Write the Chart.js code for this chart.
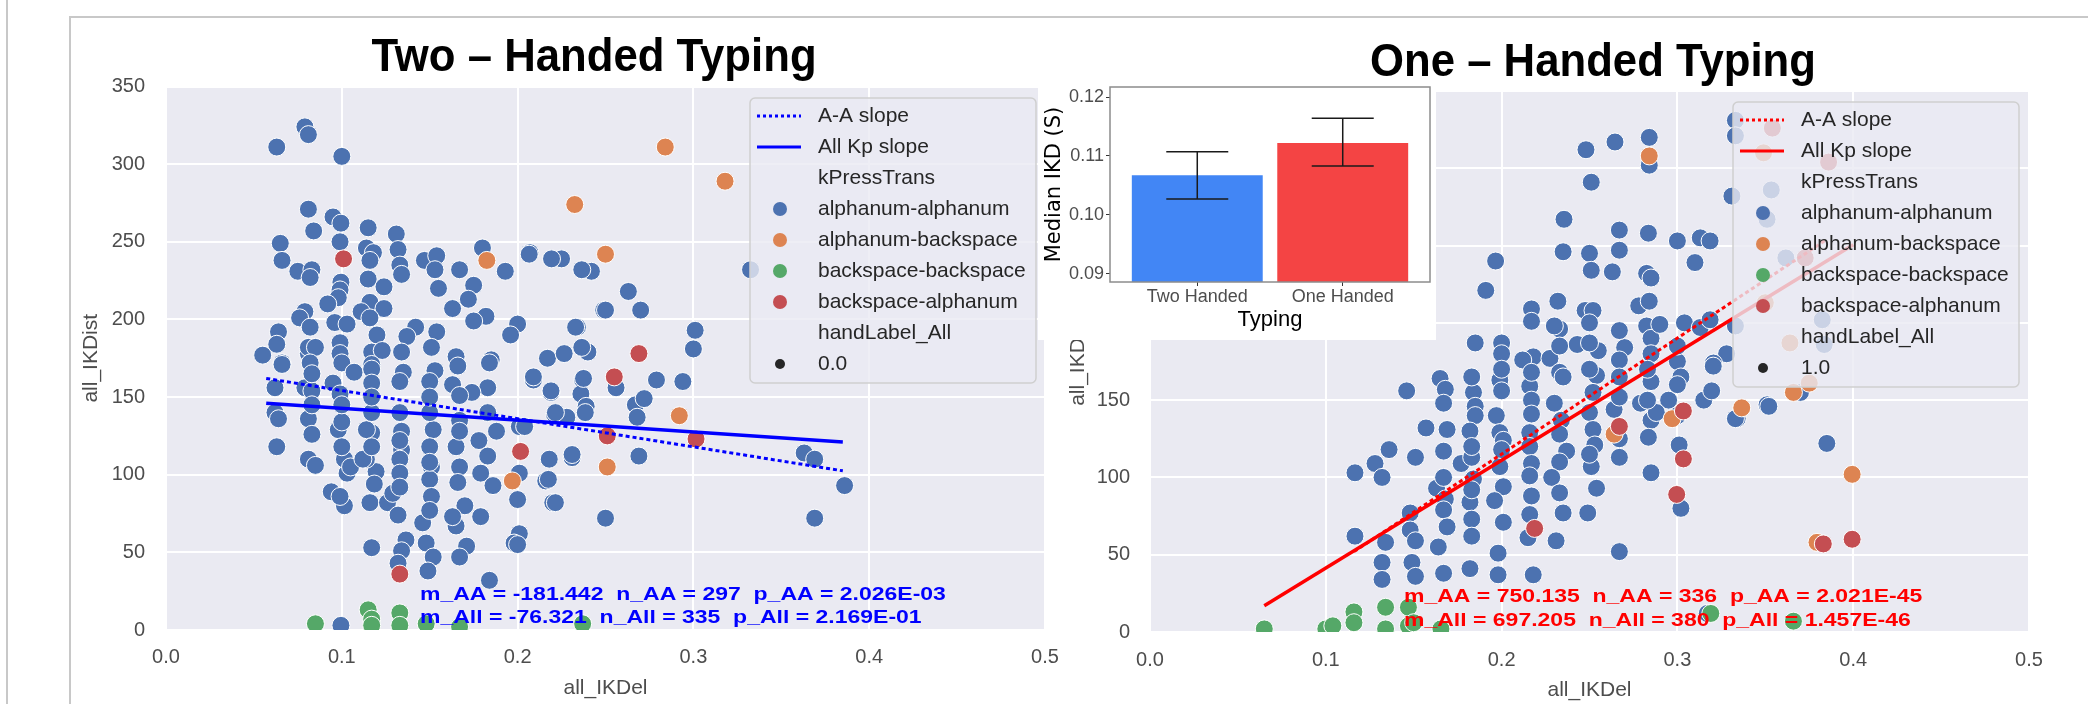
<!DOCTYPE html>
<html lang="en">
<head>
<meta charset="UTF-8" />
<title>IKD: two- vs one-handed typing</title>
<script src="https://cdn.jsdelivr.net/npm/chart.js"></script>
<style>
  body {
    margin: 0;
    background: #fff;
    width: 2088px;
    height: 704px;
    overflow: hidden;
    position: relative;
    font-family: 'Liberation Sans', Arial, sans-serif;
  }
  canvas { position: absolute; }
  #leftChart { left: 0; top: 0; }
  #rightChart { left: 1040px; top: 0; }
  #barChart { left: 1038px; top: 77px; }
  .title {
    position: absolute;
    font-weight: bold;
    font-size: 47px;
    line-height: 1;
    white-space: nowrap;
    transform: translateX(-50%) scaleX(0.93);
    color: #000;
  }
  .rule { position: absolute; background: #c8c8c8; }
</style>
</head>
<body>
  <div class="rule" style="left:6px;top:0;width:2px;height:704px"></div>
  <div class="rule" style="left:69px;top:16px;width:2019px;height:2px"></div>
  <div class="rule" style="left:69px;top:16px;width:2px;height:688px"></div>

  <canvas id="leftChart" width="1060" height="704"></canvas>
  <canvas id="rightChart" width="1048" height="704"></canvas>
  <canvas id="barChart" width="398" height="263"></canvas>

  <div class="title" style="left:594px;top:31px">Two – Handed Typing</div>
  <div class="title" style="left:1593px;top:36px">One – Handed Typing</div>

<script>
// ---- two-handed typing: [all_IKDel, all_IKDist]
const twoAlphaAlpha = [
  [0.063,311],[0.079,324],[0.081,319],[0.100,305],[0.081,271],[0.095,266],[0.0995,262],[0.084,257],[0.115,259],[0.131,255],
  [0.065,249],[0.099,250],[0.066,238],[0.114,246],[0.118,243],[0.116,238],[0.132,245],[0.133,235],[0.134,229],[0.075,231],
  [0.083,232],[0.082,227],[0.115,226],[0.124,221],[0.0995,224],[0.099,219],[0.098,214],[0.092,210],[0.116,211],[0.124,207],
  [0.111,205],[0.116,201],[0.079,205],[0.076,201],[0.082,195],[0.096,198],[0.103,197],[0.147,238],[0.154,241],[0.153,232],
  [0.155,220],[0.167,232],[0.180,246],[0.193,231],[0.207,243],[0.225,239],[0.242,231],[0.249,206],[0.175,222],[0.172,213],
  [0.163,207],[0.182,202],[0.175,199],[0.200,197],[0.196,190],[0.234,195],[0.240,179],[0.217,175],[0.185,174],[0.165,176],
  [0.142,195],[0.137,189],[0.154,192],[0.151,182],[0.134,179],[0.120,190],[0.117,179],[0.123,180],[0.099,185],[0.099,178],
  [0.100,172],[0.117,171],[0.081,178],[0.081,182],[0.085,182],[0.064,192],[0.063,184],[0.055,177],[0.066,172],[0.066,171],
  [0.082,172],[0.107,166],[0.117,168],[0.117,159],[0.135,166],[0.133,160],[0.153,167],[0.150,160],[0.166,170],[0.163,158],
  [0.184,172],[0.183,156],[0.174,153],[0.167,151],[0.209,161],[0.219,153],[0.237,161],[0.236,152],[0.239,144],[0.221,139],
  [0.228,137],[0.062,156],[0.062,140],[0.064,136],[0.079,156],[0.083,154],[0.095,159],[0.099,152],[0.081,136],[0.083,126],
  [0.098,129],[0.100,134],[0.063,118],[0.081,110],[0.085,106],[0.117,127],[0.114,129],[0.134,128],[0.134,116],[0.133,110],
  [0.133,101],[0.152,129],[0.150,118],[0.151,105],[0.150,97],[0.151,86],[0.165,118],[0.167,105],[0.166,95],[0.170,80],
  [0.165,67],[0.171,54],[0.167,47],[0.178,122],[0.183,112],[0.179,101],[0.186,93],[0.179,73],[0.188,128],[0.201,101],
  [0.200,84],[0.201,62],[0.198,56],[0.218,110],[0.231,111],[0.216,96],[0.220,82],[0.250,72],[0.201,131],[0.204,131],
  [0.103,101],[0.1015,110],[0.105,105],[0.094,89],[0.1015,80],[0.099,86],[0.1195,102],[0.1185,94],[0.116,82],[0.126,82],
  [0.132,74],[0.1365,58],[0.134,51],[0.132,43],[0.117,53],[0.146,69],[0.148,56],[0.152,47],[0.149,38],[0.184,32],
  [0.163,73],[0.114,110],[0.129,88],[0.112,110],[0.2375,162],[0.256,156],[0.267,145],[0.272,149],[0.279,161],[0.294,160],
  [0.268,137],[0.269,112],[0.363,114],[0.369,110],[0.386,93],[0.369,72],[0.209,163],[0.219,154],[0.2215,140],[0.2175,97],
  [0.2215,82],[0.231,113],[0.2385,140],[0.200,55],[0.3325,232],[0.263,218],[0.270,206],[0.250,206],[0.233,195],[0.301,193],
  [0.300,181],[0.2365,182],[0.2265,178],[0.2066,242],[0.2193,239],[0.2365,232],[0.0995,3],[0.133,92],[0.133,122],[0.150,108],
  [0.150,77],[0.117,118],[0.117,140],[0.100,118],[0.100,145],[0.083,145],[0.083,165],[0.117,150],[0.133,140],[0.150,140],
  [0.167,135],[0.167,128],[0.183,140],[0.150,150]
];
const twoAlphaBack = [[0.318,289],[0.284,311],[0.2325,274],[0.250,242],[0.1825,238],[0.292,138],[0.251,105],[0.197,96]];
const twoBackBack = [[0.085,4],[0.115,13],[0.117,7],[0.133,11],[0.148,4],[0.167,2],[0.237,4],[0.133,3],[0.117,3]];
const twoBackAlpha = [[0.101,239],[0.255,163],[0.269,178],[0.3015,123],[0.251,125],[0.2017,115],[0.133,36]];
const twoSlopeAA = [[0.057,162],[0.385,102.5]];
const twoSlopeAll = [[0.057,146],[0.385,121]];
const twoStats = ['m_AA = -181.442  n_AA = 297  p_AA = 2.026E-03', 'm_All = -76.321  n_All = 335  p_All = 2.169E-01'];

// ---- one-handed typing
const oneAlphaAlpha = [
  [0.248,312],[0.2645,317],[0.284,320],[0.284,302],[0.251,291],[0.333,331],[0.333,321],[0.331,282],[0.2355,267],[0.267,260],
  [0.2835,258],[0.300,253],[0.313,255],[0.3186,253],[0.310,239],[0.235,246],[0.250,245],[0.251,234],[0.267,247],[0.263,233],
  [0.2825,232],[0.285,229],[0.1966,240],[0.191,221],[0.232,214],[0.2475,208],[0.252,208],[0.278,211],[0.284,214],[0.217,209],
  [0.217,201],[0.233,196],[0.230,198],[0.2825,198],[0.285,190],[0.290,199],[0.304,200],[0.313,197],[0.3186,202],[0.328,180],
  [0.333,198],[0.185,187],[0.200,187],[0.200,180],[0.218,178],[0.212,176],[0.2275,177],[0.243,186],[0.255,182],[0.250,187],
  [0.270,184],[0.267,176],[0.285,180],[0.300,175],[0.3205,174],[0.146,156],[0.165,164],[0.168,157],[0.167,148],[0.184,155],
  [0.185,146],[0.185,140],[0.182,130],[0.199,163],[0.200,156],[0.197,140],[0.199,129],[0.201,124],[0.216,159],[0.217,150],
  [0.217,141],[0.216,129],[0.216,120],[0.217,109],[0.216,101],[0.217,88],[0.216,76],[0.215,61],[0.233,168],[0.235,165],
  [0.230,148],[0.234,137],[0.233,128],[0.237,117],[0.233,110],[0.2285,100],[0.235,77],[0.231,59],[0.254,166],[0.252,155],
  [0.250,142],[0.252,131],[0.253,121],[0.251,107],[0.254,93],[0.249,77],[0.264,144],[0.267,152],[0.279,148],[0.285,162],
  [0.285,137],[0.2835,126],[0.267,113],[0.285,103],[0.267,52],[0.302,165],[0.295,150],[0.288,142],[0.301,121],[0.302,80],
  [0.315,150],[0.3195,156],[0.3204,172],[0.334,138],[0.351,147],[0.317,12],[0.1166,103],[0.128,109],[0.132,100],[0.136,118],
  [0.151,113],[0.157,132],[0.169,131],[0.167,117],[0.163,93],[0.168,86],[0.167,79],[0.169,68],[0.164,55],[0.167,38],
  [0.177,109],[0.183,113],[0.184,99],[0.182,84],[0.183,73],[0.183,62],[0.182,41],[0.199,107],[0.201,94],[0.196,85],
  [0.201,71],[0.198,51],[0.198,37],[0.218,37],[0.148,77],[0.148,66],[0.151,59],[0.149,45],[0.151,36],[0.134,58],
  [0.132,45],[0.132,34],[0.1166,62],[0.385,122],[0.352,146],[0.333,138],[0.370,155],[0.183,165],[0.200,170],[0.217,168],
  [0.250,170],[0.267,165],[0.283,170],[0.300,160],[0.267,195],[0.250,200],[0.300,185],[0.233,185],[0.200,118],[0.183,120],
  [0.233,90],[0.250,115],[0.267,125],[0.283,150],[0.300,140],[0.167,100],[0.183,92],[0.3534,286],[0.351,267],[0.3617,242],
  [0.3824,202],[0.3835,186]
];
const oneAlphaBack = [[0.284,308],[0.264,128],[0.297,138],[0.3366,145],[0.3994,102],[0.3794,58],[0.366,155],[0.375,161],[0.349,310],[0.350,213],[0.364,187]];
const oneBackBack = [[0.065,2],[0.100,2],[0.116,13],[0.116,6],[0.134,16],[0.147,16],[0.1655,2],[0.134,2],[0.147,4],[0.366,7],[0.319,12],[0.104,4],[0.150,6]];
const oneBackAlpha = [[0.267,133],[0.3034,143],[0.3034,112],[0.2996,89],[0.383,57],[0.3994,60],[0.2188,67],[0.354,326],[0.386,304],[0.3727,242]];
const oneSlopeAA = [[0.116,52],[0.385,254]];
const oneSlopeAll = [[0.065,17],[0.400,250.6]];
const oneStats = ['m_AA = 750.135  n_AA = 336  p_AA = 2.021E-45', 'm_All = 697.205  n_All = 380  p_All = 1.457E-46'];

// ---- inset: median IKD (s)
const typingLabels = ['Two Handed', 'One Handed'];
const medianIKD = [0.1067, 0.1122];
const ikdLow = [0.1027, 0.1083];
const ikdHigh = [0.1107, 0.1164];

const kPressTrans = ['alphanum-alphanum', 'alphanum-backspace', 'backspace-backspace', 'backspace-alphanum'];
const xTicks = [0, 0.1, 0.2, 0.3, 0.4, 0.5];
const yTicks = [0, 50, 100, 150, 200, 250, 300, 350];

const FONT = "'Liberation Sans', Arial, sans-serif";
const hueColors = ['#4C72B0', '#DD8452', '#55A868', '#C44E52'];
const pts = arr => arr.map(p => ({ x: p[0], y: p[1] }));

const plotBg = {
  id: 'plotBg',
  beforeDraw(chart, args, o) {
    const a = chart.chartArea, ctx = chart.ctx;
    ctx.save();
    ctx.fillStyle = o.color;
    ctx.fillRect(a.left, a.top, a.right - a.left, a.bottom - a.top);
    ctx.restore();
  }
};

// regression stats written at data coordinates (the source text is drawn wide)
const statText = {
  id: 'statText',
  afterDatasetsDraw(chart, args, o) {
    const ctx = chart.ctx, sx = chart.scales.x, sy = chart.scales.y;
    ctx.save();
    ctx.font = 'bold 19px ' + FONT;
    ctx.fillStyle = o.color;
    ctx.textBaseline = 'middle';
    o.lines.forEach((t, i) => {
      ctx.save();
      ctx.translate(sx.getPixelForValue(o.x), sy.getPixelForValue(o.y[i]));
      ctx.scale(1.21, 1);
      ctx.fillText(t, 0, 0);
      ctx.restore();
    });
    ctx.restore();
  }
};

// seaborn style legend box drawn inside the axes
const boxKey = {
  id: 'boxKey',
  afterDraw(chart, args, o) {
    const ctx = chart.ctx, a = chart.chartArea;
    const x0 = a.right - o.right - o.width, y0 = a.top + o.top;
    ctx.save();
    ctx.beginPath();
    ctx.roundRect(x0, y0, o.width, o.height, 5);
    ctx.fillStyle = 'rgba(234,234,242,0.8)';
    ctx.fill();
    ctx.strokeStyle = '#cfcfcf';
    ctx.lineWidth = 1.5;
    ctx.stroke();
    ctx.font = '21px ' + FONT;
    ctx.textBaseline = 'middle';
    o.rows.forEach((r, i) => {
      const y = y0 + 18 + i * 31;
      if (r.line) {
        ctx.beginPath();
        ctx.setLineDash(r.dash || []);
        ctx.strokeStyle = r.color;
        ctx.lineWidth = 3;
        ctx.moveTo(x0 + 7, y);
        ctx.lineTo(x0 + 51, y);
        ctx.stroke();
        ctx.setLineDash([]);
      }
      if (r.dot) {
        ctx.beginPath();
        ctx.arc(x0 + 30, y, r.size, 0, Math.PI * 2);
        ctx.fillStyle = r.color;
        ctx.fill();
      }
      ctx.fillStyle = '#262626';
      ctx.fillText(r.label, x0 + 68, y);
    });
    ctx.restore();
  }
};

function keyRows(lineColor, handValue) {
  return [
    { label: 'A-A slope', line: true, dash: [3, 3], color: lineColor },
    { label: 'All Kp slope', line: true, color: lineColor },
    { label: 'kPressTrans' },
    ...kPressTrans.map((k, i) => ({ label: k, dot: true, size: 7, color: hueColors[i] })),
    { label: 'handLabel_All' },
    { label: handValue, dot: true, size: 5, color: '#262626' }
  ];
}

function scatterChart(id, groups, slopeAA, slopeAll, lineColor, stats, statY, handValue, lay) {
  const datasets = [
    { data: pts(slopeAA), showLine: true, pointRadius: 0, borderColor: lineColor, borderWidth: 3, borderDash: [4, 3], order: 0 },
    { data: pts(slopeAll), showLine: true, pointRadius: 0, borderColor: lineColor, borderWidth: 3.5, order: 0 }
  ];
  const drawOrder = [4, 3, 1, 2];
  groups.forEach((g, i) => datasets.push({
    label: kPressTrans[i], data: pts(g), pointRadius: 9, pointBackgroundColor: hueColors[i],
    pointBorderColor: '#ffffff', pointBorderWidth: 1, order: drawOrder[i]
  }));
  const tickFont = { family: FONT, size: 20 };
  const grid = { color: '#ffffff', lineWidth: 2, drawTicks: false };
  new Chart(document.getElementById(id), {
    type: 'scatter',
    data: { datasets },
    options: {
      responsive: false,
      animation: false,
      events: [],
      layout: { padding: { top: lay.top, right: lay.right, left: 0, bottom: 0 } },
      scales: {
        x: {
          type: 'linear', min: 0, max: 0.5,
          afterFit: s => { s.height = lay.xh; s.paddingLeft = 0; s.paddingRight = 0; },
          afterBuildTicks: s => { s.ticks = xTicks.map(v => ({ value: v })); },
          ticks: { padding: lay.xpad, color: '#4d4d4d', font: tickFont, callback: v => v.toFixed(1) },
          grid, border: { display: false },
          title: { display: true, text: 'all_IKDel', color: '#4d4d4d', font: { family: FONT, size: 21 }, padding: { top: 0, bottom: lay.xtitle } }
        },
        y: {
          min: 0, max: 350,
          afterFit: s => { s.width = lay.yw; s.paddingTop = 0; s.paddingBottom = 0; },
          afterBuildTicks: s => { s.ticks = yTicks.map(v => ({ value: v })); },
          ticks: { padding: lay.ypad, color: '#4d4d4d', font: tickFont },
          grid, border: { display: false },
          title: { display: true, text: 'all_IKDist', color: '#4d4d4d', font: { family: FONT, size: 21 }, padding: { top: lay.ytitle, bottom: 0 } }
        }
      },
      plugins: {
        legend: { display: false },
        tooltip: { enabled: false },
        plotBg: { color: '#EAEAF2' },
        statText: { color: lineColor, lines: stats, x: 0.1445, y: statY },
        boxKey: { right: lay.keyRight, width: 286, top: lay.keyTop, height: 285, rows: keyRows(lineColor, handValue) }
      }
    },
    plugins: [plotBg, statText, boxKey]
  });
}

scatterChart('leftChart', [twoAlphaAlpha, twoAlphaBack, twoBackBack, twoBackAlpha], twoSlopeAA, twoSlopeAll,
  '#0000FF', twoStats, [22.5, 7.7], '0.0',
  { top: 86.5, right: 15, xh: 74, yw: 166, xpad: 15, ypad: 21, xtitle: 3.4, ytitle: 78.4, keyRight: 9, keyTop: 11.5 });

scatterChart('rightChart', [oneAlphaAlpha, oneAlphaBack, oneBackBack, oneBackAlpha], oneSlopeAA, oneSlopeAll,
  '#FF0000', oneStats, [22.9, 7.4], '1.0',
  { top: 91, right: 59, xh: 72, yw: 110, xpad: 16, ypad: 20, xtitle: 1.4, ytitle: 25.4, keyRight: 10, keyTop: 11 });

// ---- inset bar chart
const panelFrame = {
  id: 'panelFrame',
  beforeDraw(chart) {
    const ctx = chart.ctx;
    ctx.save();
    ctx.fillStyle = '#ffffff';
    ctx.fillRect(0, 0, chart.width, chart.height);
    ctx.restore();
  },
  afterDraw(chart) {
    const a = chart.chartArea, ctx = chart.ctx;
    ctx.save();
    ctx.strokeStyle = '#8c8c8c';
    ctx.lineWidth = 1.5;
    ctx.strokeRect(a.left, a.top, a.right - a.left, a.bottom - a.top);
    ctx.restore();
  }
};

const errorBars = {
  id: 'errorBars',
  afterDatasetsDraw(chart) {
    const ctx = chart.ctx, sx = chart.scales.x, sy = chart.scales.y;
    ctx.save();
    ctx.strokeStyle = '#1a1a1a';
    ctx.lineWidth = 1.5;
    ikdLow.forEach((lo, i) => {
      const px = sx.getPixelForValue(i + 1);
      const top = sy.getPixelForValue(ikdHigh[i]), bot = sy.getPixelForValue(lo);
      ctx.beginPath();
      ctx.moveTo(px, top); ctx.lineTo(px, bot);
      ctx.moveTo(px - 31, top); ctx.lineTo(px + 31, top);
      ctx.moveTo(px - 31, bot); ctx.lineTo(px + 31, bot);
      ctx.stroke();
    });
    ctx.restore();
  }
};

const yMin = 0.0886;
new Chart(document.getElementById('barChart'), {
  type: 'bar',
  data: {
    datasets: [{
      data: medianIKD.map((v, i) => ({ x: i + 1, y: v })),
      backgroundColor: ['#4286F5', '#F44444'],
      base: yMin,
      barPercentage: 1,
      categoryPercentage: 0.9
    }]
  },
  options: {
    responsive: false,
    animation: false,
    events: [],
    layout: { padding: { top: 10, right: 6, left: 0, bottom: 0 } },
    scales: {
      x: {
        type: 'linear', min: 0.4, max: 2.6, offset: false,
        afterFit: s => { s.height = 58; s.paddingLeft = 0; s.paddingRight = 0; },
        afterBuildTicks: s => { s.ticks = typingLabels.map((t, i) => ({ value: i + 1 })); },
        ticks: { padding: 0, color: '#4d4d4d', font: { family: FONT, size: 18 }, callback: (v, i) => typingLabels[i] },
        grid: { offset: false, drawOnChartArea: false, tickLength: 4, color: '#333' },
        border: { display: false },
        title: { display: true, text: 'Typing', color: '#000', font: { family: FONT, size: 22 }, padding: { top: 0, bottom: 6.8 } }
      },
      y: {
        min: yMin, max: 0.1217,
        afterFit: s => { s.width = 72; s.paddingTop = 0; s.paddingBottom = 0; },
        afterBuildTicks: s => { s.ticks = [0.09, 0.10, 0.11, 0.12].map(v => ({ value: v })); },
        ticks: { padding: 2, color: '#4d4d4d', font: { family: FONT, size: 18 }, callback: v => v.toFixed(2) },
        grid: { drawOnChartArea: false, tickLength: 4, color: '#333' },
        border: { display: false },
        title: { display: true, text: 'Median IKD (S)', color: '#000', font: { family: "'DejaVu Sans', sans-serif", size: 21 }, padding: { top: 4.4, bottom: 0 } }
      }
    },
    plugins: { legend: { display: false }, tooltip: { enabled: false } }
  },
  plugins: [panelFrame, errorBars]
});
</script>
</body>
</html>
